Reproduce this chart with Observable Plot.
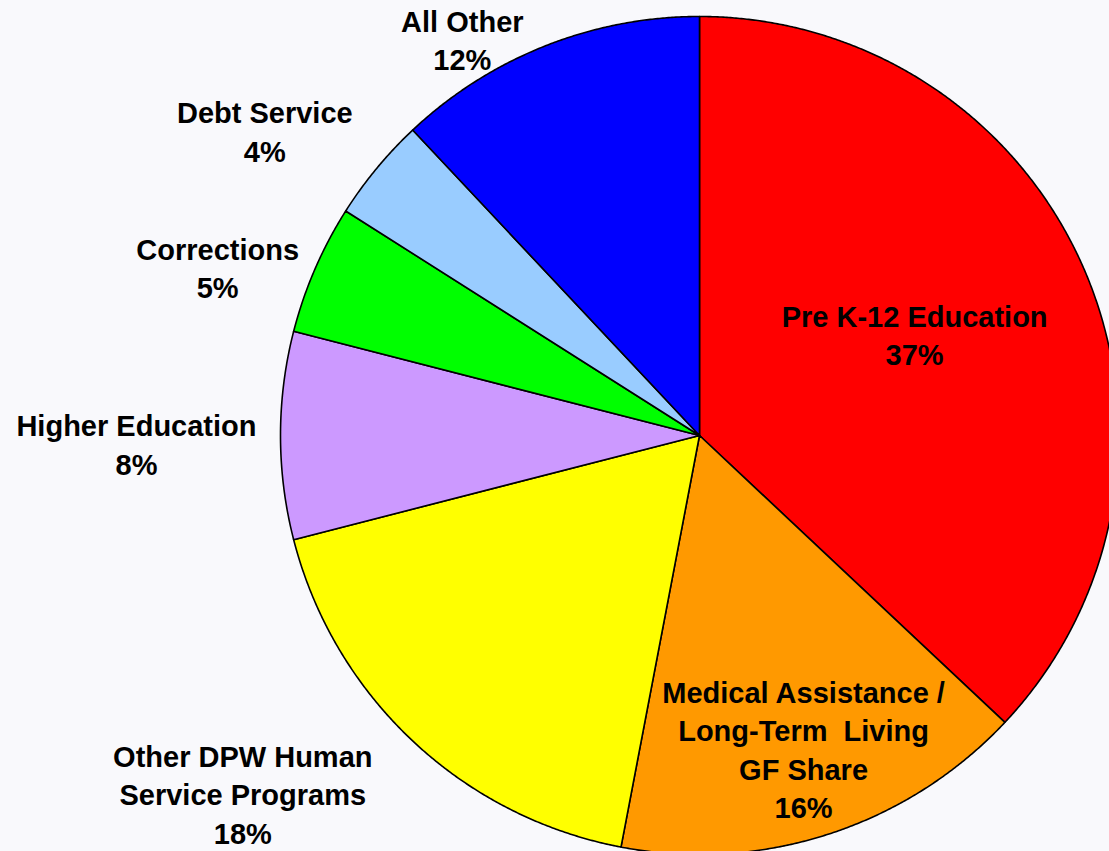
<!DOCTYPE html>
<html><head><meta charset="utf-8">
<script src="https://cdn.jsdelivr.net/npm/d3@7"></script>
<script src="https://cdn.jsdelivr.net/npm/@observablehq/plot@0.6"></script>
<style>
html,body{margin:0;padding:0;background:#f9f9fc;overflow:hidden;}
#chart{width:1109px;height:851px;overflow:hidden;}
</style></head><body><div id="chart"></div>
<script>
// ---- data ----
const categories = ["Pre K-12 Education", "Medical Assistance /\nLong-Term  Living\nGF Share", "Other DPW Human\nService Programs", "Higher Education", "Corrections", "Debt Service", "All Other"];
const shares = [37, 16, 18, 8, 5, 4, 12];
const colors = ["#ff0000", "#ff9900", "#ffff00", "#cc99ff", "#00ff00", "#99ccff", "#0000ff"];

// ---- label layout (radius factor and angle nudge relative to slice middle) ----
const labelRadius = [0.566, 0.791, 1.387, 1.344, 1.217, 1.265, 1.099];
const labelNudgeDeg = [-1.5, -0.3, 8.6, -1.0, -4.3, -4.7, -9.4];

const slices = categories.map((name, i) => ({name, share: shares[i], i}));
const arcs = d3.pie().sort(null).value(d => d.share)(slices);

const pts = [];
for (const a of arcs) {
  const name = a.data.name;
  const n = Math.max(2, Math.ceil((a.endAngle - a.startAngle) / (Math.PI / 720)));
  pts.push({name, x: 0, y: 0});
  for (let k = 0; k <= n; k++) {
    const t = a.startAngle + (a.endAngle - a.startAngle) * k / n;
    pts.push({name, x: Math.sin(t), y: Math.cos(t)});
  }
  pts.push({name, x: 0, y: 0});
}

const labels = arcs.map(a => {
  const i = a.data.i;
  const t = (a.startAngle + a.endAngle) / 2 + labelNudgeDeg[i] * Math.PI / 180;
  return {
    x: Math.sin(t) * labelRadius[i],
    y: Math.cos(t) * labelRadius[i],
    label: a.data.name + "\n" + a.data.share + "%"
  };
});

const cx = 699, cy = 435, R = 419;
const chart = Plot.plot({
  width: 1109,
  height: 851,
  margin: 0,
  x: {domain: [-1, 1], range: [cx - R, cx + R], axis: null},
  y: {domain: [-1, 1], range: [cy + R, cy - R], axis: null},
  color: {domain: categories, range: colors},
  style: {background: "#f9f9fc", fontFamily: "'Liberation Sans', Arial, sans-serif", overflow: "hidden"},
  marks: [
    Plot.line(pts, {x: "x", y: "y", z: "name", fill: "name", stroke: "black", strokeWidth: 1.6, strokeLinejoin: "round"}),
    Plot.text(labels, {x: "x", y: "y", dy: -2, text: "label", fontSize: 29, fontWeight: "bold", lineHeight: 1.33, fill: "black", lineAnchor: "middle", textAnchor: "middle"})
  ]
});
document.getElementById("chart").appendChild(chart);
</script>
</body></html>
